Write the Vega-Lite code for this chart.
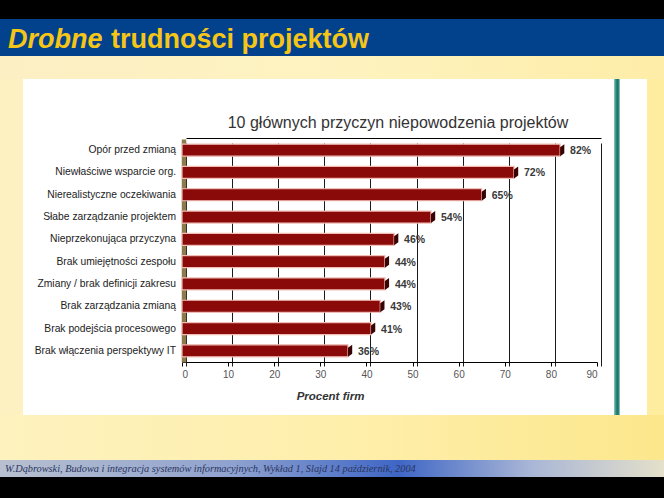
{
  "$schema": "https://vega.github.io/schema/vega-lite/v6.json",
  "background": "#FFFFFF",
  "padding": 0,
  "spacing": 0,
  "config": {"view": {"stroke": null}, "concat": {"spacing": 0}, "font": "Liberation Sans"},
  "vconcat": [
    {
      "width": 664, "height": 19,
      "data": {"values": [{"part": "top black band"}]},
      "mark": {"type": "rect", "fill": "#000000"}
    },
    {
      "width": 664, "height": 37,
      "data": {"values": [{"word": "Drobne"}, {"word": "trudności projektów"}]},
      "layer": [
        {"mark": {"type": "rect", "fill": "#02428C"}},
        {
          "transform": [{"filter": "datum.word === 'Drobne'"}],
          "mark": {"type": "text", "align": "left", "baseline": "alphabetic", "dy": 10.5, "font": "Liberation Sans", "fontSize": 27, "fontWeight": "bold", "fontStyle": "italic", "fill": "#F5C518"},
          "encoding": {
            "x": {"field": "word", "type": "nominal", "scale": {"type": "point", "domain": ["Drobne", "trudności projektów"], "range": [8, 111], "padding": 0}, "axis": null},
            "text": {"field": "word"}
          }
        },
        {
          "transform": [{"filter": "datum.word !== 'Drobne'"}],
          "mark": {"type": "text", "align": "left", "baseline": "alphabetic", "dy": 10.5, "font": "Liberation Sans", "fontSize": 27, "fontWeight": "bold", "fill": "#F5C518"},
          "encoding": {
            "x": {"field": "word", "type": "nominal", "scale": {"type": "point", "domain": ["Drobne", "trudności projektów"], "range": [8, 111], "padding": 0}, "axis": null},
            "text": {"field": "word"}
          }
        }
      ]
    },
    {
      "width": 664, "height": 23,
      "data": {"values": [{"part": "upper yellow band"}]},
      "mark": {"type": "rect", "fill": {"gradient": "linear", "x1": 0, "y1": 0, "x2": 1, "y2": 0, "stops": [{"offset": 0, "color": "#FCEFC4"}, {"offset": 0.5, "color": "#FEF3C0"}, {"offset": 1, "color": "#FEEDA8"}]}}
    },
    {
      "spacing": 0,
      "hconcat": [
        {
          "width": 23, "height": 336,
          "data": {"values": [{"part": "left yellow strip"}]},
          "mark": {"type": "rect", "fill": "#FDF1C2"}
        },
        {
          "width": 591, "height": 336,
          "view": {"fill": "#FFFFFF", "stroke": null},
          "title": {"text": "10 głównych przyczyn niepowodzenia projektów", "font": "Liberation Sans", "fontSize": 16, "fontWeight": "normal", "color": "#333333", "anchor": "middle", "frame": "group", "baseline": "alphabetic", "offset": -65, "dx": 79.5},
          "data": {"values": [
            {"reason": "Opór przed zmianą", "share": 0.82},
            {"reason": "Niewłaściwe wsparcie org.", "share": 0.72},
            {"reason": "Nierealistyczne oczekiwania", "share": 0.65},
            {"reason": "Słabe zarządzanie projektem", "share": 0.54},
            {"reason": "Nieprzekonująca przyczyna", "share": 0.46},
            {"reason": "Brak umiejętności zespołu", "share": 0.44},
            {"reason": "Zmiany / brak definicji zakresu", "share": 0.44},
            {"reason": "Brak zarządzania zmianą", "share": 0.43},
            {"reason": "Brak podejścia procesowego", "share": 0.41},
            {"reason": "Brak włączenia perspektywy IT", "share": 0.36}
          ]},
          "layer": [
            {
              "mark": {"type": "bar", "size": 12, "fill": "#8A0A0A", "stroke": "#F2BDB5", "strokeWidth": 1.2},
              "encoding": {
                "y": {
                  "field": "reason", "type": "nominal", "sort": null,
                  "scale": {"range": [60, 283], "paddingInner": 0, "paddingOuter": 0},
                  "axis": {"orient": "left", "offset": -160.5, "title": null, "ticks": false, "tickSize": 0, "labelPadding": 8, "labelFont": "Liberation Sans", "labelFontSize": 10.3, "labelColor": "#222222", "labelLimit": 220, "domainColor": "#8C7B4C", "domainWidth": 4.5, "grid": false}
                },
                "x": {
                  "field": "share", "type": "quantitative",
                  "scale": {"domain": [0, 0.9], "range": [159, 574], "nice": false, "zero": true},
                  "axis": {"orient": "bottom", "offset": -53, "grid": false, "values": [0, 0.1, 0.2, 0.3, 0.4, 0.5, 0.6, 0.7, 0.8, 0.9], "labelExpr": "round(datum.value * 100)", "domainColor": "#000000", "domainWidth": 1, "tickColor": "#000000", "tickSize": 4, "labelPadding": 3, "labelFont": "Liberation Sans", "labelFontSize": 10, "labelColor": "#555555", "title": "Procent firm", "titleFont": "Liberation Sans", "titleFontSize": 11.5, "titleFontWeight": "bold", "titleFontStyle": "italic", "titleColor": "#333333", "titleX": 307, "titleY": 37, "titleAlign": "center", "titleBaseline": "alphabetic"}
                }
              }
            },
            {
              "mark": {"type": "point", "shape": "M0,-0.5L0.7,-1L0.7,0.5L0,1Z", "size": 144, "filled": true, "fill": "#3A0303", "opacity": 1, "strokeWidth": 0},
              "encoding": {
                "y": {"field": "reason", "type": "nominal", "sort": null},
                "x": {"field": "share", "type": "quantitative", "axis": null}
              }
            },
            {
              "mark": {"type": "text", "align": "left", "baseline": "middle", "dx": 10, "dy": 1, "font": "Liberation Sans", "fontSize": 10.5, "fontWeight": "bold", "fill": "#3A3A3A"},
              "encoding": {
                "y": {"field": "reason", "type": "nominal", "sort": null},
                "x": {
                  "field": "share", "type": "quantitative",
                  "axis": {"orient": "top", "offset": -55, "translate": 4.5, "grid": true, "gridColor": "#1A1A1A", "gridWidth": 1, "gridOpacity": 1, "labels": false, "ticks": false, "title": null, "domain": true, "domainColor": "#000000", "domainWidth": 1, "values": [0, 0.1, 0.2, 0.3, 0.4, 0.5, 0.6, 0.7, 0.8, 0.9]}
                },
                "text": {"field": "share", "type": "quantitative", "format": ".0%"}
              }
            }
          ],
          "resolve": {"axis": {"x": "independent"}}
        },
        {
          "width": 6, "height": 336,
          "data": {"values": [{"part": "teal stripe"}]},
          "mark": {"type": "rect", "fill": {"gradient": "linear", "x1": 0, "y1": 0, "x2": 1, "y2": 0, "stops": [{"offset": 0, "color": "#8CC8BD"}, {"offset": 0.35, "color": "#2C8A7D"}, {"offset": 0.7, "color": "#1B6E63"}, {"offset": 1, "color": "#A6D6CD"}]}}
        },
        {
          "width": 27, "height": 336,
          "data": {"values": [{"part": "white strip"}]},
          "mark": {"type": "rect", "fill": "#FFFFFF"}
        },
        {
          "width": 17, "height": 336,
          "data": {"values": [{"part": "right yellow strip"}]},
          "mark": {"type": "rect", "fill": "#FEEC9F"}
        }
      ]
    },
    {
      "width": 664, "height": 45,
      "data": {"values": [{"part": "lower yellow band"}]},
      "mark": {"type": "rect", "fill": {"gradient": "linear", "x1": 0, "y1": 0, "x2": 1, "y2": 0, "stops": [{"offset": 0, "color": "#FEF2BE"}, {"offset": 0.5, "color": "#FEEFAC"}, {"offset": 1, "color": "#FCE78C"}]}}
    },
    {
      "width": 664, "height": 17,
      "data": {"values": [{"note": "W.Dąbrowski, Budowa i integracja systemów informacyjnych, Wykład 1, Slajd 14  październik, 2004"}]},
      "layer": [
        {"mark": {"type": "rect", "fill": {"gradient": "linear", "x1": 0, "y1": 0, "x2": 1, "y2": 0, "stops": [{"offset": 0, "color": "#B8C0D0"}, {"offset": 0.35, "color": "#8FA2CF"}, {"offset": 0.6, "color": "#3F66C6"}, {"offset": 0.8, "color": "#A9B6D6"}, {"offset": 1, "color": "#E4E0CA"}]}}},
        {
          "mark": {"type": "text", "align": "left", "baseline": "alphabetic", "dy": 3.5, "font": "Liberation Serif", "fontSize": 10.3, "fontStyle": "italic", "fill": "#2A3560"},
          "encoding": {
            "x": {"field": "note", "type": "nominal", "scale": {"type": "point", "range": [5, 5]}, "axis": null},
            "text": {"field": "note"}
          }
        }
      ]
    },
    {
      "width": 664, "height": 21,
      "data": {"values": [{"part": "bottom black band"}]},
      "mark": {"type": "rect", "fill": "#000000"}
    }
  ]
}
